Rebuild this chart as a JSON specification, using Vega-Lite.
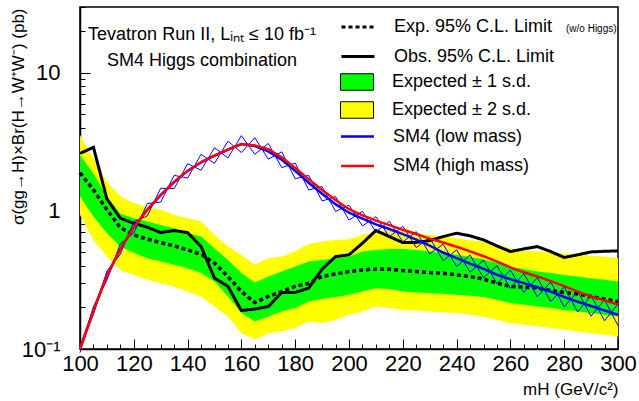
{
  "$schema": "https://vega.github.io/schema/vega-lite/v6.json",
  "width": 538,
  "height": 342,
  "autosize": "none",
  "padding": {"left": 80, "top": 7, "right": 21, "bottom": 52},
  "background": "white",
  "config": {
    "font": "Liberation Sans",
    "view": {"stroke": "black", "strokeWidth": 1.5},
    "axis": {"grid": false, "domainColor": "black", "domainWidth": 1.5, "tickColor": "black", "tickWidth": 1, "labelColor": "black", "titleColor": "black", "labelFont": "Liberation Sans", "titleFont": "Liberation Sans"},
    "legend": {"labelFont": "Liberation Sans", "labelFontSize": 18, "labelColor": "black", "labelLimit": 0, "padding": 0, "labelOffset": 26, "orient": "none"}
  },
  "title": {
    "text": ["Tevatron Run II, Lᵢₙₜ ≤ 10 fb⁻¹", "SM4 Higgs combination"],
    "anchor": "start",
    "frame": "group",
    "align": "center",
    "baseline": "top",
    "dx": 122,
    "dy": 74,
    "offset": 0,
    "fontSize": 18,
    "fontWeight": "normal",
    "font": "Liberation Sans",
    "lineHeight": 26,
    "color": "black"
  },
  "datasets": {
    "lim": [
      {"m": 100, "obs": 2.61, "exp": 1.89, "g_lo": 1.27, "g_hi": 2.54, "y_lo": 0.935, "y_hi": 3.55},
      {"m": 105, "obs": 2.89, "exp": 1.42, "g_lo": 0.91, "g_hi": 1.87, "y_lo": 0.617, "y_hi": 2.4},
      {"m": 110, "obs": 1.22, "exp": 1.02, "g_lo": 0.69, "g_hi": 1.27, "y_lo": 0.467, "y_hi": 1.63},
      {"m": 115, "obs": 0.885, "exp": 0.757, "g_lo": 0.552, "g_hi": 0.96, "y_lo": 0.374, "y_hi": 1.27},
      {"m": 120, "obs": 0.815, "exp": 0.67, "g_lo": 0.495, "g_hi": 0.885, "y_lo": 0.344, "y_hi": 1.14},
      {"m": 125, "obs": 0.762, "exp": 0.624, "g_lo": 0.455, "g_hi": 0.837, "y_lo": 0.317, "y_hi": 1.07},
      {"m": 130, "obs": 0.697, "exp": 0.59, "g_lo": 0.43, "g_hi": 0.792, "y_lo": 0.3, "y_hi": 1.02},
      {"m": 135, "obs": 0.721, "exp": 0.558, "g_lo": 0.407, "g_hi": 0.75, "y_lo": 0.284, "y_hi": 0.935},
      {"m": 140, "obs": 0.697, "exp": 0.522, "g_lo": 0.385, "g_hi": 0.69, "y_lo": 0.261, "y_hi": 0.885},
      {"m": 145, "obs": 0.552, "exp": 0.486, "g_lo": 0.355, "g_hi": 0.652, "y_lo": 0.24, "y_hi": 0.837},
      {"m": 150, "obs": 0.326, "exp": 0.419, "g_lo": 0.308, "g_hi": 0.537, "y_lo": 0.203, "y_hi": 0.67},
      {"m": 155, "obs": 0.284, "exp": 0.335, "g_lo": 0.24, "g_hi": 0.442, "y_lo": 0.172, "y_hi": 0.552},
      {"m": 160, "obs": 0.19, "exp": 0.261, "g_lo": 0.182, "g_hi": 0.355, "y_lo": 0.13, "y_hi": 0.48},
      {"m": 165, "obs": 0.195, "exp": 0.217, "g_lo": 0.158, "g_hi": 0.303, "y_lo": 0.117, "y_hi": 0.407},
      {"m": 170, "obs": 0.203, "exp": 0.24, "g_lo": 0.172, "g_hi": 0.335, "y_lo": 0.13, "y_hi": 0.455},
      {"m": 175, "obs": 0.257, "exp": 0.261, "g_lo": 0.187, "g_hi": 0.364, "y_lo": 0.134, "y_hi": 0.467},
      {"m": 180, "obs": 0.257, "exp": 0.284, "g_lo": 0.198, "g_hi": 0.396, "y_lo": 0.142, "y_hi": 0.508},
      {"m": 185, "obs": 0.276, "exp": 0.3, "g_lo": 0.221, "g_hi": 0.43, "y_lo": 0.158, "y_hi": 0.575},
      {"m": 190, "obs": 0.379, "exp": 0.335, "g_lo": 0.23, "g_hi": 0.442, "y_lo": 0.154, "y_hi": 0.6},
      {"m": 195, "obs": 0.467, "exp": 0.35, "g_lo": 0.238, "g_hi": 0.455, "y_lo": 0.163, "y_hi": 0.617},
      {"m": 200, "obs": 0.481, "exp": 0.364, "g_lo": 0.247, "g_hi": 0.467, "y_lo": 0.177, "y_hi": 0.624},
      {"m": 205, "obs": 0.584, "exp": 0.374, "g_lo": 0.261, "g_hi": 0.508, "y_lo": 0.187, "y_hi": 0.67},
      {"m": 210, "obs": 0.721, "exp": 0.38, "g_lo": 0.276, "g_hi": 0.522, "y_lo": 0.203, "y_hi": 0.71},
      {"m": 215, "obs": 0.652, "exp": 0.378, "g_lo": 0.272, "g_hi": 0.531, "y_lo": 0.198, "y_hi": 0.729},
      {"m": 220, "obs": 0.59, "exp": 0.37, "g_lo": 0.261, "g_hi": 0.53, "y_lo": 0.192, "y_hi": 0.71},
      {"m": 225, "obs": 0.592, "exp": 0.364, "g_lo": 0.257, "g_hi": 0.522, "y_lo": 0.19, "y_hi": 0.69},
      {"m": 230, "obs": 0.61, "exp": 0.358, "g_lo": 0.253, "g_hi": 0.508, "y_lo": 0.187, "y_hi": 0.67},
      {"m": 235, "obs": 0.652, "exp": 0.354, "g_lo": 0.251, "g_hi": 0.495, "y_lo": 0.184, "y_hi": 0.652},
      {"m": 240, "obs": 0.69, "exp": 0.344, "g_lo": 0.247, "g_hi": 0.481, "y_lo": 0.182, "y_hi": 0.634},
      {"m": 245, "obs": 0.66, "exp": 0.335, "g_lo": 0.243, "g_hi": 0.463, "y_lo": 0.177, "y_hi": 0.61},
      {"m": 250, "obs": 0.617, "exp": 0.321, "g_lo": 0.238, "g_hi": 0.447, "y_lo": 0.172, "y_hi": 0.6},
      {"m": 255, "obs": 0.558, "exp": 0.3, "g_lo": 0.227, "g_hi": 0.419, "y_lo": 0.163, "y_hi": 0.567},
      {"m": 260, "obs": 0.508, "exp": 0.284, "g_lo": 0.215, "g_hi": 0.391, "y_lo": 0.154, "y_hi": 0.537},
      {"m": 265, "obs": 0.531, "exp": 0.281, "g_lo": 0.209, "g_hi": 0.379, "y_lo": 0.15, "y_hi": 0.517},
      {"m": 270, "obs": 0.552, "exp": 0.276, "g_lo": 0.203, "g_hi": 0.364, "y_lo": 0.146, "y_hi": 0.508},
      {"m": 275, "obs": 0.508, "exp": 0.265, "g_lo": 0.198, "g_hi": 0.355, "y_lo": 0.142, "y_hi": 0.5},
      {"m": 280, "obs": 0.46, "exp": 0.257, "g_lo": 0.192, "g_hi": 0.344, "y_lo": 0.138, "y_hi": 0.49},
      {"m": 285, "obs": 0.481, "exp": 0.25, "g_lo": 0.187, "g_hi": 0.335, "y_lo": 0.134, "y_hi": 0.481},
      {"m": 290, "obs": 0.505, "exp": 0.24, "g_lo": 0.182, "g_hi": 0.326, "y_lo": 0.13, "y_hi": 0.473},
      {"m": 295, "obs": 0.51, "exp": 0.23, "g_lo": 0.177, "g_hi": 0.317, "y_lo": 0.127, "y_hi": 0.465},
      {"m": 300, "obs": 0.514, "exp": 0.221, "g_lo": 0.172, "g_hi": 0.308, "y_lo": 0.123, "y_hi": 0.455}
    ],
    "sm4": [
      {"m": 100, "low": 0.1, "lo": 0.094, "hi": 0.106, "high": 0.1},
      {"m": 105, "low": 0.19, "lo": 0.178, "hi": 0.203, "high": 0.19},
      {"m": 110, "low": 0.34, "lo": 0.315, "hi": 0.367, "high": 0.34},
      {"m": 115, "low": 0.53, "lo": 0.486, "hi": 0.578, "high": 0.53},
      {"m": 120, "low": 0.76, "lo": 0.691, "hi": 0.836, "high": 0.76},
      {"m": 125, "low": 1.02, "lo": 0.919, "hi": 1.13, "high": 1.02},
      {"m": 130, "low": 1.3, "lo": 1.16, "hi": 1.46, "high": 1.3},
      {"m": 135, "low": 1.62, "lo": 1.45, "hi": 1.81, "high": 1.62},
      {"m": 140, "low": 1.95, "lo": 1.73, "hi": 2.2, "high": 1.95},
      {"m": 145, "low": 2.25, "lo": 1.97, "hi": 2.57, "high": 2.25},
      {"m": 150, "low": 2.52, "lo": 2.21, "hi": 2.87, "high": 2.52},
      {"m": 155, "low": 2.78, "lo": 2.42, "hi": 3.2, "high": 2.78},
      {"m": 160, "low": 3.05, "lo": 2.65, "hi": 3.51, "high": 3.05},
      {"m": 165, "low": 2.95, "lo": 2.57, "hi": 3.39, "high": 2.98},
      {"m": 170, "low": 2.7, "lo": 2.37, "hi": 3.08, "high": 2.8},
      {"m": 175, "low": 2.35, "lo": 2.06, "hi": 2.68, "high": 2.45},
      {"m": 180, "low": 1.95, "lo": 1.71, "hi": 2.22, "high": 2.05},
      {"m": 185, "low": 1.6, "lo": 1.42, "hi": 1.81, "high": 1.7},
      {"m": 190, "low": 1.33, "lo": 1.18, "hi": 1.5, "high": 1.42},
      {"m": 195, "low": 1.12, "lo": 0.991, "hi": 1.27, "high": 1.2},
      {"m": 200, "low": 0.97, "lo": 0.858, "hi": 1.1, "high": 1.03},
      {"m": 205, "low": 0.88, "lo": 0.779, "hi": 0.994, "high": 0.93},
      {"m": 210, "low": 0.8, "lo": 0.705, "hi": 0.908, "high": 0.85},
      {"m": 215, "low": 0.74, "lo": 0.651, "hi": 0.841, "high": 0.79},
      {"m": 220, "low": 0.68, "lo": 0.597, "hi": 0.775, "high": 0.73},
      {"m": 225, "low": 0.62, "lo": 0.543, "hi": 0.708, "high": 0.68},
      {"m": 230, "low": 0.56, "lo": 0.489, "hi": 0.641, "high": 0.63},
      {"m": 235, "low": 0.5, "lo": 0.436, "hi": 0.574, "high": 0.59},
      {"m": 240, "low": 0.455, "lo": 0.396, "hi": 0.523, "high": 0.55},
      {"m": 245, "low": 0.415, "lo": 0.36, "hi": 0.479, "high": 0.51},
      {"m": 250, "low": 0.38, "lo": 0.328, "hi": 0.44, "high": 0.47},
      {"m": 255, "low": 0.345, "lo": 0.297, "hi": 0.401, "high": 0.43},
      {"m": 260, "low": 0.32, "lo": 0.275, "hi": 0.373, "high": 0.39},
      {"m": 265, "low": 0.3, "lo": 0.257, "hi": 0.351, "high": 0.36},
      {"m": 270, "low": 0.28, "lo": 0.239, "hi": 0.328, "high": 0.335},
      {"m": 275, "low": 0.26, "lo": 0.221, "hi": 0.306, "high": 0.31},
      {"m": 280, "low": 0.238, "lo": 0.202, "hi": 0.281, "high": 0.285},
      {"m": 285, "low": 0.22, "lo": 0.186, "hi": 0.261, "high": 0.26},
      {"m": 290, "low": 0.205, "lo": 0.173, "hi": 0.244, "high": 0.24},
      {"m": 295, "low": 0.19, "lo": 0.16, "hi": 0.227, "high": 0.225},
      {"m": 300, "low": 0.177, "lo": 0.148, "hi": 0.212, "high": 0.21}
    ]
  },
  "encoding": {
    "x": {
      "field": "m",
      "type": "quantitative",
      "scale": {"domain": [100, 300], "nice": false},
      "axis": {
        "values": [100,105,110,115,120,125,130,135,140,145,150,155,160,165,170,175,180,185,190,195,200,205,210,215,220,225,230,235,240,245,250,255,260,265,270,275,280,285,290,295,300],
        "labelExpr": "datum.value % 20 == 0 ? datum.label : ''",
        "format": "d",
        "tickSize": {"condition": {"test": "datum.value % 20 == 0", "value": -10}, "value": -5},
        "labelFontSize": 22,
        "labelPadding": 14,
        "labelFlush": false,
        "labelOverlap": false,
        "title": "mH (GeV/c²)",
        "titleFontSize": 17,
        "titleFontWeight": "normal",
        "titleX": 538,
        "titleY": 40,
        "titleAlign": "right",
        "titleBaseline": "middle"
      }
    }
  },
  "layer": [
    {
      "data": {"name": "lim"},
      "mark": {"type": "area", "opacity": 1},
      "encoding": {
        "y": {
          "field": "y_lo",
          "type": "quantitative",
          "scale": {"type": "log", "domain": [0.1, 30], "nice": false},
          "axis": {"values": [0.1,0.2,0.3,0.4,0.5,0.6,0.7,0.8,0.9,1,2,3,4,5,6,7,8,9,10,20,30], "labelExpr": "datum.value == 0.1 ? '10⁻¹' : datum.value == 1 ? '1' : datum.value == 10 ? '10' : ''", "tickSize": {"condition": {"test": "datum.value == 0.1 || datum.value == 1 || datum.value == 10", "value": -10}, "value": -5}, "labelFontSize": 22, "labelPadding": 30, "labelOverlap": false, "labelBaseline": "middle", "title": "σ(gg→H)×Br(H→W⁺W⁻) (pb)", "titleFontSize": 17, "titleFontWeight": "normal", "titleX": -62, "titleY": 1, "titleAlign": "right", "titleAngle": -90, "titleBaseline": "middle"}
        },
        "y2": {"field": "y_hi"},
        "fill": {
          "datum": "Expected ± 2 s.d.",
          "scale": {"domain": ["Expected ± 1 s.d.", "Expected ± 2 s.d."], "range": ["#00ff00", "#ffff00"]},
          "legend": {"title": null, "symbolType": "M-2,-1H2V1H-2Z", "symbolSize": 272, "symbolStrokeColor": "black", "symbolStrokeWidth": 1, "symbolOpacity": 1, "rowPadding": 6, "legendX": 268, "legendY": 66}
        }
      }
    },
    {
      "data": {"name": "lim"},
      "mark": {"type": "area", "opacity": 1},
      "encoding": {
        "y": {
          "field": "g_lo",
          "type": "quantitative",
          "axis": {"values": [0.1,0.2,0.3,0.4,0.5,0.6,0.7,0.8,0.9,1,2,3,4,5,6,7,8,9,10,20,30], "labelExpr": "datum.value == 0.1 ? '10⁻¹' : datum.value == 1 ? '1' : datum.value == 10 ? '10' : ''", "tickSize": {"condition": {"test": "datum.value == 0.1 || datum.value == 1 || datum.value == 10", "value": -10}, "value": -5}, "labelFontSize": 22, "labelPadding": 30, "labelOverlap": false, "labelBaseline": "middle", "title": "σ(gg→H)×Br(H→W⁺W⁻) (pb)", "titleFontSize": 17, "titleFontWeight": "normal", "titleX": -62, "titleY": 1, "titleAlign": "right", "titleAngle": -90, "titleBaseline": "middle"}
        },
        "y2": {"field": "g_hi"},
        "fill": {"datum": "Expected ± 1 s.d."}
      }
    },
    {
      "data": {"name": "lim"},
      "mark": {"type": "line", "color": "black", "strokeWidth": 3.5},
      "encoding": {
        "y": {
          "field": "exp",
          "type": "quantitative",
          "axis": {"values": [0.1,0.2,0.3,0.4,0.5,0.6,0.7,0.8,0.9,1,2,3,4,5,6,7,8,9,10,20,30], "labelExpr": "datum.value == 0.1 ? '10⁻¹' : datum.value == 1 ? '1' : datum.value == 10 ? '10' : ''", "tickSize": {"condition": {"test": "datum.value == 0.1 || datum.value == 1 || datum.value == 10", "value": -10}, "value": -5}, "labelFontSize": 22, "labelPadding": 30, "labelOverlap": false, "labelBaseline": "middle", "title": "σ(gg→H)×Br(H→W⁺W⁻) (pb)", "titleFontSize": 17, "titleFontWeight": "normal", "titleX": -62, "titleY": 1, "titleAlign": "right", "titleAngle": -90, "titleBaseline": "middle"}
        },
        "strokeDash": {
          "datum": "Exp. 95% C.L. Limit",
          "scale": {"domain": ["Exp. 95% C.L. Limit", "Obs. 95% C.L. Limit"], "range": [[4, 3], [1, 0]]},
          "legend": {"title": ["", "(w/o Higgs)"], "titleOrient": "right", "titleFontSize": 10, "titleFontWeight": "normal", "titleColor": "black", "titleLineHeight": 7, "titleBaseline": "top", "titleAnchor": "start", "titlePadding": 12, "symbolType": "M-2,0H2", "symbolSize": 272, "symbolStrokeColor": "black", "symbolStrokeWidth": 3, "symbolFillColor": "transparent", "rowPadding": 10.5, "legendX": 268, "legendY": 10}
        }
      }
    },
    {
      "data": {"name": "lim"},
      "mark": {"type": "line", "color": "black", "strokeWidth": 3},
      "encoding": {
        "y": {
          "field": "obs",
          "type": "quantitative",
          "axis": {"values": [0.1,0.2,0.3,0.4,0.5,0.6,0.7,0.8,0.9,1,2,3,4,5,6,7,8,9,10,20,30], "labelExpr": "datum.value == 0.1 ? '10⁻¹' : datum.value == 1 ? '1' : datum.value == 10 ? '10' : ''", "tickSize": {"condition": {"test": "datum.value == 0.1 || datum.value == 1 || datum.value == 10", "value": -10}, "value": -5}, "labelFontSize": 22, "labelPadding": 30, "labelOverlap": false, "labelBaseline": "middle", "title": "σ(gg→H)×Br(H→W⁺W⁻) (pb)", "titleFontSize": 17, "titleFontWeight": "normal", "titleX": -62, "titleY": 1, "titleAlign": "right", "titleAngle": -90, "titleBaseline": "middle"}
        },
        "strokeDash": {"datum": "Obs. 95% C.L. Limit"}
      }
    },
    {
      "data": {"name": "sm4"},
      "transform": [
        {"window": [{"op": "lead", "field": "m", "as": "m2"}, {"op": "lead", "field": "lo", "as": "lo2"}, {"op": "lead", "field": "hi", "as": "hi2"}], "sort": [{"field": "m"}]},
        {"filter": "datum.m2 != null"}
      ],
      "mark": {"type": "rule", "color": "#0000ff", "strokeWidth": 1},
      "encoding": {
        "y": {
          "field": "lo",
          "type": "quantitative",
          "axis": {"values": [0.1,0.2,0.3,0.4,0.5,0.6,0.7,0.8,0.9,1,2,3,4,5,6,7,8,9,10,20,30], "labelExpr": "datum.value == 0.1 ? '10⁻¹' : datum.value == 1 ? '1' : datum.value == 10 ? '10' : ''", "tickSize": {"condition": {"test": "datum.value == 0.1 || datum.value == 1 || datum.value == 10", "value": -10}, "value": -5}, "labelFontSize": 22, "labelPadding": 30, "labelOverlap": false, "labelBaseline": "middle", "title": "σ(gg→H)×Br(H→W⁺W⁻) (pb)", "titleFontSize": 17, "titleFontWeight": "normal", "titleX": -62, "titleY": 1, "titleAlign": "right", "titleAngle": -90, "titleBaseline": "middle"}
        },
        "x2": {"field": "m2"},
        "y2": {"field": "hi2"}
      }
    },
    {
      "data": {"name": "sm4"},
      "transform": [
        {"window": [{"op": "lead", "field": "m", "as": "m2"}, {"op": "lead", "field": "lo", "as": "lo2"}, {"op": "lead", "field": "hi", "as": "hi2"}], "sort": [{"field": "m"}]},
        {"filter": "datum.m2 != null"}
      ],
      "mark": {"type": "rule", "color": "#0000ff", "strokeWidth": 1},
      "encoding": {
        "y": {
          "field": "hi",
          "type": "quantitative",
          "axis": {"values": [0.1,0.2,0.3,0.4,0.5,0.6,0.7,0.8,0.9,1,2,3,4,5,6,7,8,9,10,20,30], "labelExpr": "datum.value == 0.1 ? '10⁻¹' : datum.value == 1 ? '1' : datum.value == 10 ? '10' : ''", "tickSize": {"condition": {"test": "datum.value == 0.1 || datum.value == 1 || datum.value == 10", "value": -10}, "value": -5}, "labelFontSize": 22, "labelPadding": 30, "labelOverlap": false, "labelBaseline": "middle", "title": "σ(gg→H)×Br(H→W⁺W⁻) (pb)", "titleFontSize": 17, "titleFontWeight": "normal", "titleX": -62, "titleY": 1, "titleAlign": "right", "titleAngle": -90, "titleBaseline": "middle"}
        },
        "x2": {"field": "m2"},
        "y2": {"field": "lo2"}
      }
    },
    {
      "data": {"name": "sm4"},
      "mark": {"type": "line", "strokeWidth": 2.5},
      "encoding": {
        "y": {
          "field": "low",
          "type": "quantitative",
          "axis": {"values": [0.1,0.2,0.3,0.4,0.5,0.6,0.7,0.8,0.9,1,2,3,4,5,6,7,8,9,10,20,30], "labelExpr": "datum.value == 0.1 ? '10⁻¹' : datum.value == 1 ? '1' : datum.value == 10 ? '10' : ''", "tickSize": {"condition": {"test": "datum.value == 0.1 || datum.value == 1 || datum.value == 10", "value": -10}, "value": -5}, "labelFontSize": 22, "labelPadding": 30, "labelOverlap": false, "labelBaseline": "middle", "title": "σ(gg→H)×Br(H→W⁺W⁻) (pb)", "titleFontSize": 17, "titleFontWeight": "normal", "titleX": -62, "titleY": 1, "titleAlign": "right", "titleAngle": -90, "titleBaseline": "middle"}
        },
        "stroke": {
          "datum": "SM4 (low mass)",
          "scale": {"domain": ["SM4 (low mass)", "SM4 (high mass)"], "range": ["#0000ff", "#ff0000"]},
          "legend": {"title": null, "symbolType": "M-2,0H2", "symbolSize": 272, "symbolStrokeWidth": 2.5, "symbolFillColor": "transparent", "rowPadding": 10.5, "legendX": 268, "legendY": 120}
        }
      }
    },
    {
      "data": {"name": "sm4"},
      "mark": {"type": "line", "strokeWidth": 2.5},
      "encoding": {
        "y": {
          "field": "high",
          "type": "quantitative",
          "axis": {"values": [0.1,0.2,0.3,0.4,0.5,0.6,0.7,0.8,0.9,1,2,3,4,5,6,7,8,9,10,20,30], "labelExpr": "datum.value == 0.1 ? '10⁻¹' : datum.value == 1 ? '1' : datum.value == 10 ? '10' : ''", "tickSize": {"condition": {"test": "datum.value == 0.1 || datum.value == 1 || datum.value == 10", "value": -10}, "value": -5}, "labelFontSize": 22, "labelPadding": 30, "labelOverlap": false, "labelBaseline": "middle", "title": "σ(gg→H)×Br(H→W⁺W⁻) (pb)", "titleFontSize": 17, "titleFontWeight": "normal", "titleX": -62, "titleY": 1, "titleAlign": "right", "titleAngle": -90, "titleBaseline": "middle"}
        },
        "stroke": {"datum": "SM4 (high mass)"}
      }
    }
  ]
}
